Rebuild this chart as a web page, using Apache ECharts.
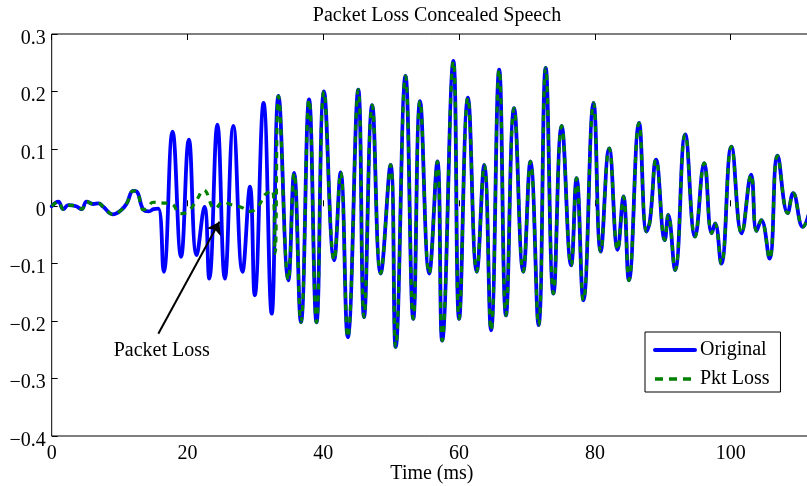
<!DOCTYPE html>
<html>
<head>
<meta charset="utf-8">
<script src="https://cdn.jsdelivr.net/npm/echarts@6/dist/echarts.min.js"></script>
<style>
html,body{margin:0;padding:0;background:#fff;}
#chart{width:807px;height:486px;}
</style>
</head>
<body>
<div id="chart"></div>
<script>
// Original speech: times (ms) and amplitudes read at turning points
var timeOrig = [0, 0.97, 1.7, 2.45, 3.6, 4.4, 5.15, 6.1, 6.9, 7.6, 9.0, 10.2, 11.05, 12.0, 12.5, 13.5, 14.3, 15.0, 15.7,
  16.5, 17.8, 19.05, 20.2, 21.35, 22.5, 23.2, 24.4, 25.5, 26.75, 28.1, 29.2, 29.9, 31.2, 32.4,
  33.4, 34.85, 35.7, 36.7, 37.9, 39.0, 40.1, 41.6, 42.55, 43.6, 45.15, 46.0, 47.2, 48.45, 49.9,
  50.65, 52.1, 53.25, 54.25, 55.6, 56.8, 57.5, 59.15, 60.0, 61.3, 62.6, 63.7, 64.7, 65.9, 66.9,
  68.1, 69.45, 70.5, 71.7, 72.75, 73.9, 75.1, 76.5, 77.3, 78.3, 79.8, 80.85, 82.1, 83.35, 84.2,
  85.0, 86.5, 87.6, 88.1, 89.0, 90.3, 90.8, 91.8, 93.3, 94.75, 96.1, 97.2, 97.7, 98.6, 100.1,
  101.6, 103.0, 103.8, 104.5, 105.7, 106.9, 108.4, 109.2, 110.6, 112];
var valOrig = [0, 0.008, -0.005, 0.002, 0.0, -0.005, 0.008, 0.004, 0.005, -0.001, -0.014, -0.007, 0.005, 0.027, 0.026, -0.006, -0.009, -0.005, -0.004,
  -0.114, 0.130, -0.088, 0.116, -0.085, -0.001, -0.126, 0.142, -0.126, 0.140, -0.114, 0.034, -0.155, 0.180, -0.187,
  0.192, -0.129, 0.058, -0.202, 0.186, -0.202, 0.200, -0.094, 0.059, -0.228, 0.203, -0.193, 0.176, -0.117, 0.072,
  -0.245, 0.227, -0.196, 0.183, -0.117, 0.078, -0.234, 0.253, -0.196, 0.189, -0.114, 0.072, -0.216, 0.238, -0.190,
  0.171, -0.114, 0.078, -0.207, 0.241, -0.152, 0.140, -0.103, 0.049, -0.164, 0.180, -0.079, 0.101, -0.076, 0.017,
  -0.129, 0.145, -0.044, -0.026, 0.081, -0.059, -0.015, -0.111, 0.125, -0.053, 0.075, -0.047, -0.030, -0.100, 0.104,
  -0.047, 0.055, -0.043, -0.024, -0.091, 0.088, -0.012, 0.023, -0.036, 0.010];

// Concealed segment of the packet-loss signal
var lossStart = 13.5;
var lossEnd = 33.4;
var timeConceal = [13.95, 15.0, 16.2, 17.7, 18.9, 20.1, 21.35, 22.4, 24.05, 25.3, 26.4, 28.0, 29.2, 30.4, 31.4, 32.5, 32.9];
var valConceal = [-0.004, 0.007, 0.006, 0.004, -0.013, -0.009, 0.011, 0.028, -0.004, 0.008, 0.003, -0.002, -0.009, 0.0, 0.020, 0.028, -0.082];

// Axis ticks
var xTicks = [0, 20, 40, 60, 80, 100];
var yTicks = [0.3, 0.2, 0.1, 0, -0.1, -0.2, -0.3, -0.4];

// Annotation (data coordinates)
var arrowFrom = [15.7, -0.222];
var arrowTo = [24.7, -0.027];
var annoText = 'Packet Loss';
var annoPos = [16.2, -0.251];

var original = timeOrig.map(function (t, i) { return [t, valOrig[i]]; });
var pktLoss = [];
timeOrig.forEach(function (t, i) { if (t <= lossStart) pktLoss.push([t, valOrig[i]]); });
timeConceal.forEach(function (t, i) { pktLoss.push([t, valConceal[i]]); });
timeOrig.forEach(function (t, i) { if (t >= lossEnd) pktLoss.push([t, valOrig[i]]); });

var FONT = 'Liberation Serif';
var chart = echarts.init(document.getElementById('chart'), null, {renderer: 'canvas'});

chart.setOption({
  animation: false,
  backgroundColor: '#fff',
  title: {
    text: 'Packet Loss Concealed Speech',
    left: 432, top: 1, textAlign: 'center',
    textStyle: {fontFamily: FONT, fontSize: 20, fontWeight: 'normal', color: '#000'}
  },
  legend: {
    orient: 'vertical', left: 645, top: 332,
    padding: [8, 11, 3, 8], itemGap: 9, itemWidth: 40, itemHeight: 14, itemTextGap: 5,
    borderColor: '#000', borderWidth: 1, backgroundColor: '#fff',
    textStyle: {fontFamily: FONT, fontSize: 20, color: '#000'},
    itemStyle: {opacity: 0, borderWidth: 0},
    data: [
      {name: 'Original', lineStyle: {width: 4, type: 'solid', color: '#0000ff'}, itemStyle: {opacity: 0, borderWidth: 0}},
      {name: 'Pkt Loss', lineStyle: {width: 3.5, type: [8, 6], color: '#008000'}, itemStyle: {opacity: 0, borderWidth: 0}}
    ]
  },
  grid: {left: 51.7, right: -5.2, top: 34, bottom: 50, outerBoundsMode: 'none', containLabel: false,
    show: true, borderColor: '#000', borderWidth: 1, backgroundColor: 'transparent'},
  xAxis: [{
    type: 'value', min: 0, max: 112, interval: 20, position: 'bottom',
    name: 'Time (ms)', nameLocation: 'middle', nameGap: 28, nameMoveOverlap: false,
    nameTextStyle: {fontFamily: FONT, fontSize: 20, color: '#000'},
    axisLine: {show: false},
    axisTick: {show: true, inside: true, length: 6, lineStyle: {color: '#000'}},
    splitLine: {show: false},
    axisLabel: {fontFamily: FONT, fontSize: 20, color: '#000', margin: 8,
      formatter: function (v) { var r = Math.round(v); return xTicks.indexOf(r) >= 0 && Math.abs(v - r) < 1e-6 ? String(r) : ''; }}
  }, {
    type: 'value', min: 0, max: 112, interval: 20, position: 'top',
    axisLine: {show: false},
    axisTick: {show: true, inside: true, length: 6, lineStyle: {color: '#000'}},
    splitLine: {show: false}, axisLabel: {show: false}
  }],
  yAxis: [{
    type: 'value', min: -0.4, max: 0.3, interval: 0.1,
    axisLine: {show: false},
    axisTick: {show: true, inside: true, length: 6, lineStyle: {color: '#000'}},
    splitLine: {show: false},
    axisLabel: {fontFamily: FONT, fontSize: 20, color: '#000', margin: 6,
      verticalAlign: 'top', lineHeight: 9,
      formatter: function (v) {
        if (Math.abs(v) < 1e-9) return '0';
        var s = Math.abs(v).toFixed(1);
        return v < 0 ? '\u2212' + s : s;
      }}
  }],
  series: [{
    name: 'Original', type: 'line', data: original, symbol: 'none', smooth: 0.45,
    lineStyle: {color: '#0000ff', width: 3.8, cap: 'round', join: 'round'},
    itemStyle: {color: '#0000ff'}, z: 2
  }, {
    name: 'Pkt Loss', type: 'line', data: pktLoss, symbol: 'none', smooth: 0.45,
    lineStyle: {color: '#008000', width: 3.2, type: [6, 6], join: 'round'},
    itemStyle: {color: '#008000'}, z: 3,
    markLine: {
      silent: true, symbol: ['none', 'arrow'], symbolSize: 12, animation: false,
      lineStyle: {type: 'solid', color: '#000', width: 2},
      label: {show: false},
      emphasis: {disabled: true},
      data: [[{coord: arrowFrom}, {coord: arrowTo}]]
    },
    markPoint: {
      silent: true, symbol: 'circle', symbolSize: 0, animation: false,
      label: {show: true, position: 'inside', formatter: annoText, fontFamily: FONT, fontSize: 20, color: '#000'},
      itemStyle: {color: 'transparent'},
      data: [{coord: annoPos, value: 0}]
    }
  }]
});
</script>
</body>
</html>
